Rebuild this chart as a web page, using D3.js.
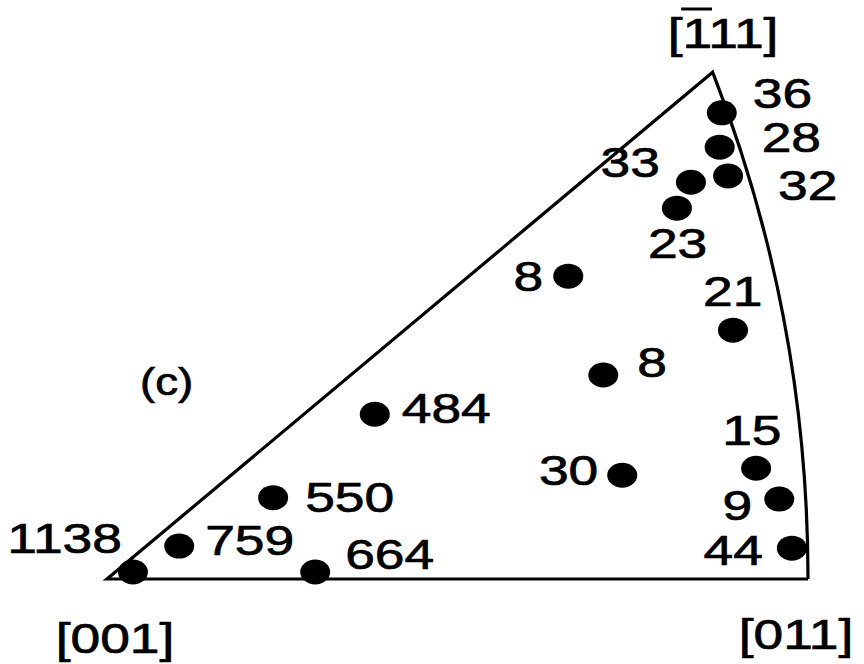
<!DOCTYPE html>
<html>
<head>
<meta charset="utf-8">
<script src="https://cdn.jsdelivr.net/npm/d3@7"></script>
<style>
  body { margin: 0; background: #fff; }
  text { font-family: "Liberation Sans", Arial, Helvetica, sans-serif; fill: #000; stroke: #000; stroke-width: 0.7px; }
</style>
</head>
<body>
<div id="chart"></div>
<script>
// counts for each orientation, with position inside the standard triangle
// (x from [001] towards [011] = 100, y upward, same units)
const counts = ["36", "28", "32", "33", "23", "8", "21", "8", "484", "30", "15", "9", "44", "550", "759", "1138", "664"];
const posX = [87.7, 87.4, 88.6, 83.3, 81.3, 65.8, 89.3, 70.8, 38.2, 73.5, 92.6, 95.9, 97.7, 23.7, 10.3, 3.7, 29.7];
const posY = [66.5, 61.6, 57.5, 56.6, 52.9, 43.2, 35.5, 29.1, 23.5, 14.8, 15.8, 11.4, 4.4, 11.6, 4.7, 1.0, 1.0];

// triangle corners
const poleNames = ["[001]", "[011]", "[111]"];
const poleX = [0, 100, 86.4];
const poleY = [0, 0, 72.3];

// where each count label sits next to its dot (px, baseline), and anchor
const labelDx = [31, 42, 50, -31, -29, -25, -30, 34, 27, -24, -34, -27, -29, 32, 26, -11, 30];
const labelDy = [-5, 5, 24, -5, 50, 15, -24, 2, 9, 10, -23, 21, 17, 14, 9, -19, -3];
const labelAnchor = ["start", "start", "start", "end", "start", "end", "start", "start", "start",
    "end", "start", "end", "end", "start", "start", "end", "start"];

const width = 864;
const height = 664;
const stretch = 1.27; // lettering in the scan is wider than normal

const svg = d3.select("#chart")
    .append("svg")
    .attr("width", width)
    .attr("height", height);

// equal scale on both axes so the arc stays circular
const x = d3.scaleLinear().domain([0, 100]).range([107, 808]);
const k = (x(100) - x(0)) / 100;
const y = d3.scaleLinear().domain([0, 100]).range([579, 579 - 100 * k]);

// [011]-[111] edge: circle with its centre on the [001]-[011] line
const cx = (poleX[2] * poleX[2] + poleY[2] * poleY[2] - poleX[1] * poleX[1]) / (2 * (poleX[2] - poleX[1]));
const R = poleX[1] - cx;
const aTop = -Math.atan2(poleY[2], poleX[2] - cx);

const outline = d3.path();
outline.moveTo(x(poleX[1]), y(poleY[1]));
outline.lineTo(x(poleX[0]), y(poleY[0]));
outline.lineTo(x(poleX[2]), y(poleY[2]));
outline.arc(x(cx), y(0), R * k, aTop, 0, false);

// dots
svg.append("g")
    .selectAll("ellipse")
    .data(counts)
    .enter()
    .append("ellipse")
    .attr("cx", (d, i) => x(posX[i]))
    .attr("cy", (d, i) => y(posY[i]))
    .attr("rx", 15)
    .attr("ry", 12.5)
    .attr("fill", "#000");

svg.append("path")
    .attr("d", outline.toString())
    .attr("fill", "none")
    .attr("stroke", "#000")
    .attr("stroke-width", 3.2)
    .attr("stroke-linejoin", "miter");

// count labels
svg.append("g")
    .selectAll("text")
    .data(counts)
    .enter()
    .append("text")
    .attr("transform", (d, i) =>
        `translate(${x(posX[i]) + labelDx[i]},${y(posY[i]) + labelDy[i]}) scale(${stretch},1)`)
    .attr("text-anchor", (d, i) => labelAnchor[i])
    .style("font-size", "42px")
    .text(d => d);

// pole labels
const poleLabelPos = [[115, 653], [796, 649], [723, 48]];
const poles = svg.append("g")
    .selectAll("g")
    .data(poleNames)
    .enter()
    .append("g")
    .attr("transform", (d, i) => `translate(${poleLabelPos[i][0]},${poleLabelPos[i][1]}) scale(${stretch},1)`);

poles.append("text")
    .attr("text-anchor", "middle")
    .style("font-size", "42px")
    .text(d => d);

// bar over the first index of [-111]
poles.filter((d, i) => i === 2).each(function () {
    const box = d3.select(this).select("text").node().getExtentOfChar(1);
    d3.select(this).append("line")
        .attr("x1", box.x - 1)
        .attr("x2", box.x + box.width + 3)
        .attr("y1", -39)
        .attr("y2", -39)
        .attr("stroke", "#000")
        .attr("stroke-width", 3);
});

// panel letter
svg.append("text")
    .attr("transform", `translate(140,395) scale(1.2,1)`)
    .style("font-size", "38px")
    .text("(c)");
</script>
</body>
</html>
